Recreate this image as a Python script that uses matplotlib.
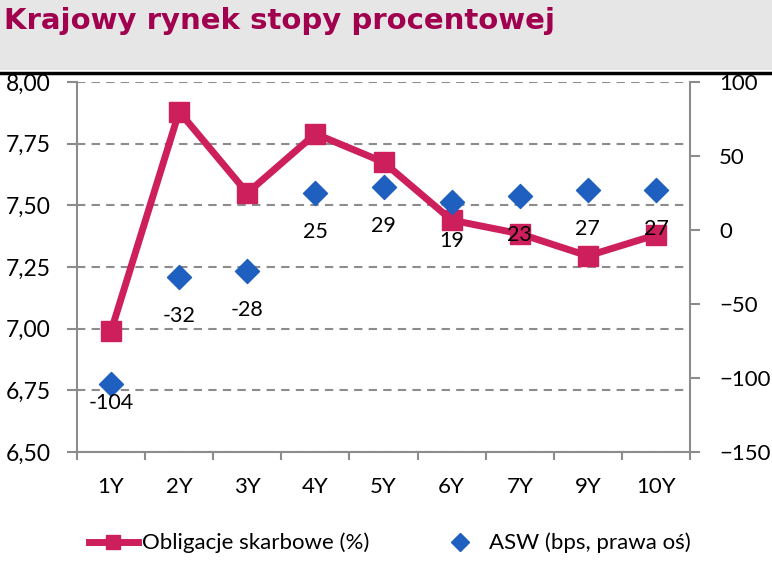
"""Krajowy rynek stopy procentowej - yields and ASW chart."""

import matplotlib
matplotlib.use("Agg")
import matplotlib.pyplot as plt
from matplotlib.patches import Rectangle
from matplotlib.lines import Line2D
from matplotlib.ticker import FuncFormatter, FixedLocator

plt.rcParams["font.family"] = ["Lato", "DejaVu Sans"]

tenors = ["1Y", "2Y", "3Y", "4Y", "5Y", "6Y", "7Y", "9Y", "10Y"]
yields = [6.99, 7.88, 7.55, 7.79, 7.675, 7.44, 7.385, 7.295, 7.38]
asw = [-104, -32, -28, 25, 29, 19, 23, 27, 27]

line_color = "#CC1F5C"
diamond_color = "#1F5FBF"
grid_color = "#8C8C8C"

fig = plt.figure(figsize=(7.72, 5.74), dpi=100)
fig.patch.set_facecolor("white")

# title band
fig.patches.append(Rectangle((0, 1 - 70 / 574), 1, 70 / 574, transform=fig.transFigure,
                             facecolor="#E6E6E6", edgecolor="none", zorder=0))
fig.lines.append(Line2D([0, 1], [1 - 73 / 574, 1 - 73 / 574], transform=fig.transFigure,
                        color="black", linewidth=2.5))
fig.text(4 / 772, 1 - 21 / 574, "Krajowy rynek stopy procentowej", fontsize=21,
         family="DejaVu Sans", fontweight="bold", color="#A0004E", ha="left", va="center")

ax = fig.add_axes([77 / 772, 1 - 452 / 574, 613 / 772, 370 / 574])
x = list(range(len(tenors)))

ax.plot(x, yields, color=line_color, linewidth=5, marker="s", markersize=14,
        zorder=3, label="Obligacje skarbowe (%)")
ax.set_xlim(-0.5, len(tenors) - 0.5)
ax.set_ylim(6.5, 8.0)
ax.set_yticks([6.5, 6.75, 7.0, 7.25, 7.5, 7.75, 8.0])
ax.yaxis.set_major_formatter(FuncFormatter(lambda v, p: f"{v:.2f}".replace(".", ",")))
ax.grid(axis="y", color=grid_color, linestyle=(0, (4, 3)), linewidth=1.5)
ax.set_axisbelow(True)

ax.set_xticks(x)
ax.set_xticklabels(tenors)
ax.xaxis.set_minor_locator(FixedLocator([i - 0.5 for i in range(len(tenors) + 1)]))
ax.tick_params(axis="x", which="major", length=0, pad=18, labelsize=16)
ax.tick_params(axis="x", which="minor", length=6, width=1.5, color=grid_color)
ax.tick_params(axis="y", length=7, width=1.5, color=grid_color, labelsize=16.5, pad=12)

for side in ["top", "right"]:
    ax.spines[side].set_visible(False)
for side in ["left", "bottom"]:
    ax.spines[side].set_color(grid_color)
    ax.spines[side].set_linewidth(1.5)

ax2 = ax.twinx()
ax2.scatter(x, asw, marker="D", s=150, color=diamond_color, zorder=4,
            label="ASW (bps, prawa oś)")
ax2.set_ylim(-150, 100)
ax2.set_yticks([-150, -100, -50, 0, 50, 100])
ax2.tick_params(axis="y", length=7, width=1.5, color=grid_color, labelsize=16, pad=14)
for side in ["top", "left", "bottom"]:
    ax2.spines[side].set_visible(False)
ax2.spines["right"].set_color(grid_color)
ax2.spines["right"].set_linewidth(1.5)

# labels sit below the diamonds; the 1Y one was nudged closer in the source chart
for i, (xi, v) in enumerate(zip(x, asw)):
    dy = -14 if i == 0 else -28
    ax2.annotate(f"{v}", xy=(xi, v), xytext=(0, dy), textcoords="offset points",
                 ha="center", va="center", fontsize=15.5, zorder=5)

handles = [Line2D([], [], color=line_color, linewidth=5, marker="s", markersize=10),
           Line2D([], [], color=diamond_color, linestyle="none", marker="D", markersize=9)]
fig.legend(handles, ["Obligacje skarbowe (%)", "ASW (bps, prawa oś)"],
           loc="center", bbox_to_anchor=(0.505, 1 - 543 / 574), ncol=2, frameon=False,
           fontsize=16, handlelength=2.2, handletextpad=0.2, columnspacing=3.0)

fig.savefig("out.png", dpi=100)
